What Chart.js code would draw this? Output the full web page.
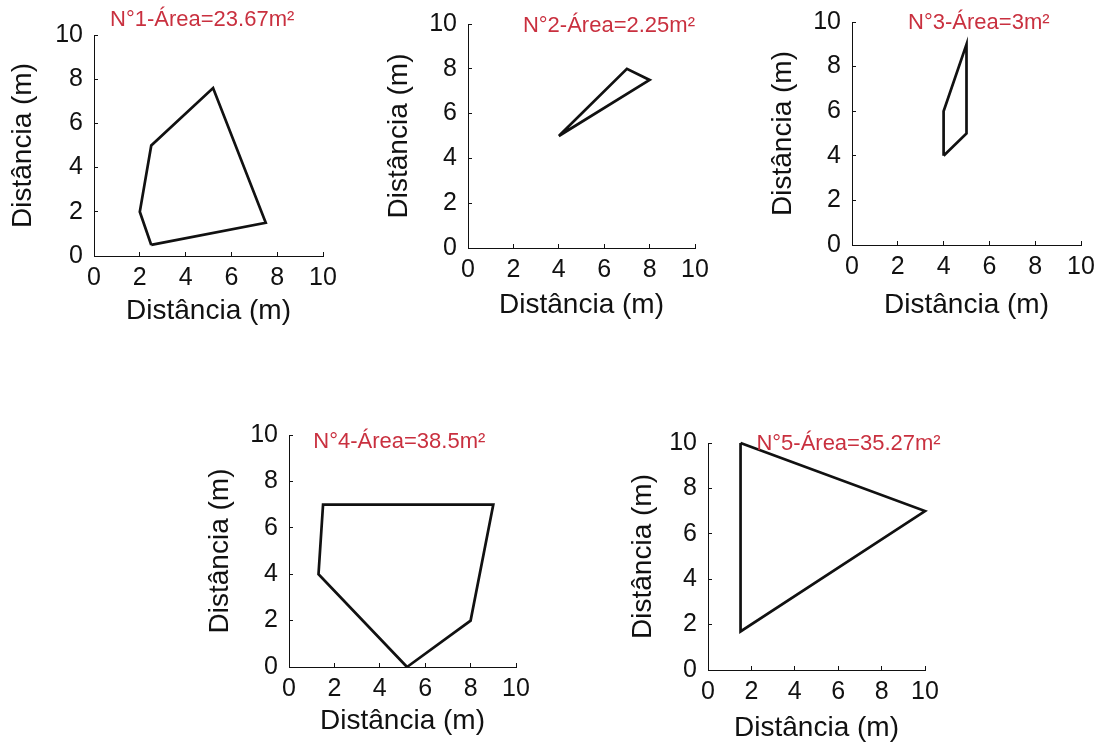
<!DOCTYPE html>
<html>
<head>
<meta charset="utf-8">
<script src="https://cdn.jsdelivr.net/npm/chart.js@4"></script>
<style>
  html, body { margin: 0; padding: 0; background: #fff; overflow: hidden; }
  .panel { position: absolute; }
</style>
</head>
<body>
<script>
// tick labels shared by both axes of every plot
const tickValues = [0, 2, 4, 6, 8, 10];
const axisTitle = 'Distância (m)';

// area of each plot (m²), shown in the red caption
const areas = ['23.67', '2.25', '3', '38.5', '35.27'];

// polygon vertices, x and y in metres (first vertex repeated to close)
const poly1X = [2.5, 7.5, 5.2, 2.5, 2, 2.5];
const poly1Y = [0.5, 1.5, 7.6, 5, 2, 0.5];
const poly2X = [4, 7, 8, 4];
const poly2Y = [5, 8, 7.5, 5];
const poly3X = [4, 5, 5, 4, 4];
const poly3Y = [4, 5, 9, 6, 4];
const poly4X = [5.2, 8, 9, 1.5, 1.3, 5.2];
const poly4Y = [0, 2, 7, 7, 4, 0];
const poly5X = [1.5, 10, 1.5, 1.5];
const poly5Y = [10, 7, 1.7, 10];

const polysX = [poly1X, poly2X, poly3X, poly4X, poly5X];
const polysY = [poly1Y, poly2Y, poly3Y, poly4Y, poly5Y];

// plot rectangles on the page, centre of y title (yt) and x title (xt),
// and where the caption starts, in data units
const layout = [
  { l: 94,  t: 35,  r: 323,  b: 256, yt: 23,  xt: 311, cx: 0.7,  cy: 10.66 },
  { l: 468, t: 24,  r: 695,  b: 248, yt: 399, xt: 305, cx: 2.42, cy: 9.93 },
  { l: 852, t: 22,  r: 1081, b: 245, yt: 783, xt: 305, cx: 2.45, cy: 9.96 },
  { l: 289, t: 435, r: 516,  b: 667, yt: 220, xt: 721, cx: 1.07, cy: 9.68 },
  { l: 708, t: 443, r: 925,  b: 670, yt: 643, xt: 728, cx: 2.23, cy: 9.94 }
];

const FONT = '"Liberation Sans", Arial, Helvetica, sans-serif';
const INK = '#111';
const CAPTION = '#c9303f';

const caption = {
  id: 'caption',
  afterDatasetsDraw(chart, args, opts) {
    const ctx = chart.ctx;
    ctx.save();
    ctx.font = '22px ' + FONT;
    ctx.fillStyle = CAPTION;
    ctx.textAlign = 'left';
    ctx.textBaseline = 'middle';
    ctx.fillText(opts.text, chart.scales.x.getPixelForValue(opts.x), chart.scales.y.getPixelForValue(opts.y));
    ctx.restore();
  }
};

const TITLE_SIZE = 28;
const TITLE_LH = TITLE_SIZE * 1.2;
const AXIS_W = 94;
const PAD_R = 20;

layout.forEach((p, i) => {
  const left = p.l - AXIS_W;
  const top = Math.max(0, p.t - 35);
  const width = p.r + PAD_R - left;
  const bottomEdge = p.xt + 22;
  const height = bottomEdge - top;

  const div = document.createElement('div');
  div.className = 'panel';
  div.style.left = left + 'px';
  div.style.top = top + 'px';
  const canvas = document.createElement('canvas');
  canvas.width = width;
  canvas.height = height;
  canvas.style.width = width + 'px';
  canvas.style.height = height + 'px';
  div.appendChild(canvas);
  document.body.appendChild(div);

  const pts = polysX[i].map((x, k) => ({ x: x, y: polysY[i][k] }));

  const tickFont = { family: FONT, size: 25 };
  const titleFont = { family: FONT, size: TITLE_SIZE };

  new Chart(canvas, {
    type: 'scatter',
    data: {
      datasets: [{
        data: pts,
        showLine: true,
        borderColor: INK,
        borderWidth: 2.7,
        pointRadius: 0,
        tension: 0,
        clip: false
      }]
    },
    options: {
      responsive: false,
      animation: false,
      devicePixelRatio: 1,
      layout: { padding: { left: 0, top: p.t - top, right: PAD_R, bottom: 0 } },
      plugins: {
        legend: { display: false },
        tooltip: { enabled: false },
        caption: { text: 'N°' + (i + 1) + '-Área=' + areas[i] + 'm²', x: p.cx, y: p.cy }
      },
      scales: {
        x: {
          type: 'linear',
          min: 0, max: 10,
          afterBuildTicks: s => { s.ticks = tickValues.map(v => ({ value: v })); },
          afterFit: s => {
            s.height = bottomEdge - p.b;
            s.paddingLeft = 0;
            s.paddingRight = 0;
          },
          border: { display: true, color: INK, width: 1 },
          grid: { display: true, drawOnChartArea: false, drawTicks: true, tickLength: -4, color: INK },
          ticks: { color: INK, font: tickFont, padding: 11, maxRotation: 0 },
          title: { display: true, text: axisTitle, color: INK, font: titleFont, padding: { top: 0, bottom: 22 - TITLE_LH / 2 } }
        },
        y: {
          type: 'linear',
          min: 0, max: 10,
          afterBuildTicks: s => { s.ticks = tickValues.map(v => ({ value: v })); },
          afterFit: s => {
            s.width = AXIS_W;
            s.paddingTop = 0;
            s.paddingBottom = 0;
          },
          border: { display: true, color: INK, width: 1 },
          grid: { display: true, drawOnChartArea: false, drawTicks: true, tickLength: -4, color: INK },
          ticks: { color: INK, font: tickFont, padding: 15 },
          title: { display: true, text: axisTitle, color: INK, font: titleFont, padding: { top: p.yt - left - TITLE_LH / 2, bottom: 0 } }
        }
      }
    },
    plugins: [caption]
  });
});
</script>
</body>
</html>
